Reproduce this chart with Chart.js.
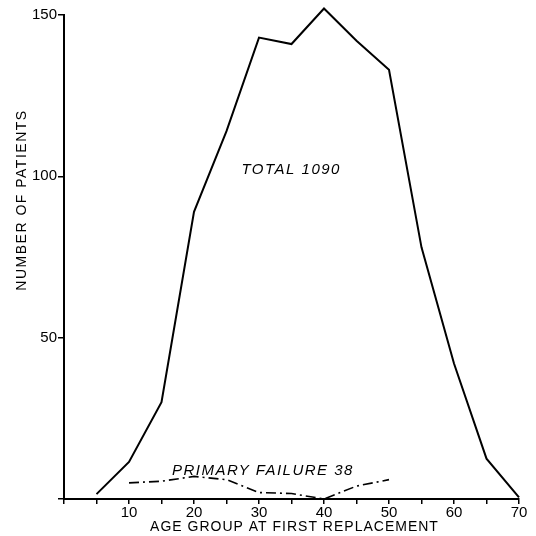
<!DOCTYPE html>
<html><head><meta charset="utf-8">
<script src="https://cdn.jsdelivr.net/npm/chart.js@4/dist/chart.umd.min.js"></script>
<style>html,body{margin:0;padding:0;background:#fff}#wrap{width:536px;height:536px}</style>
</head><body><div id="wrap"><canvas id="c" width="536" height="536"></canvas></div>
<script>
const ages = [5,10,15,20,25,30,35,40,45,50,55,60,65,70];
const totalValues = [1.5,11.5,30,89,114,143,141,152,142,133,78,42,12.5,0.5];
const failureAges = [10,15,20,25,30,35,40,45,50];
const failureValues = [5,5.5,7,6,2,1.7,0,4,6];
const xTickLabels = ['10','20','30','40','50','60','70'];
const yTickLabels = ['50','100','150'];
const yTitle = 'NUMBER OF PATIENTS';
const xTitle = 'AGE GROUP AT FIRST REPLACEMENT';
const notes = [
  {text:'TOTAL 1090', x:27.3, y:102},
  {text:'PRIMARY FAILURE 38', x:16.6, y:8.6}
];
const font = "'Liberation Sans', Arial, sans-serif";

const overlay = {
  id:'overlay',
  afterDraw(chart){
    const ctx = chart.ctx, xs = chart.scales.x, ys = chart.scales.y;
    ctx.save();
    ctx.fillStyle = '#000';
    ctx.font = 'italic 15px ' + font;
    ctx.letterSpacing = '1.5px';
    ctx.textBaseline = 'middle';
    ctx.textAlign = 'left';
    notes.forEach(n => ctx.fillText(n.text, xs.getPixelForValue(n.x), ys.getPixelForValue(n.y)));
    ctx.font = '14px ' + font;
    ctx.letterSpacing = '1px';
    ctx.textAlign = 'center';
    ctx.fillText(xTitle, (xs.left + xs.right)/2 + 3, 527);
    ctx.letterSpacing = '1.5px';
    ctx.translate(22, 200);
    ctx.rotate(-Math.PI/2);
    ctx.fillText(yTitle, 0, 0);
    ctx.restore();
  }
};

new Chart(document.getElementById('c'), {
  type:'line',
  data:{datasets:[
    {data: ages.map((a,i)=>({x:a,y:totalValues[i]})), borderColor:'#000', borderWidth:2, pointRadius:0, tension:0, clip:false},
    {data: failureAges.map((a,i)=>({x:a,y:failureValues[i]})), borderColor:'#000', borderWidth:1.6, borderDash:[10,4,2,4], pointRadius:0, tension:0, clip:false}
  ]},
  options:{
    responsive:false, animation:false,
    layout:{padding:{top:15, right:17, left:0, bottom:0}},
    plugins:{legend:{display:false}, tooltip:{enabled:false}},
    scales:{
      x:{type:'linear', min:0, max:70,
        border:{color:'#000', width:2},
        grid:{display:true, drawOnChartArea:false, drawTicks:true, tickLength:5, color:'#000', lineWidth:1.5},
        ticks:{stepSize:5, autoSkip:false, maxRotation:0, color:'#000', font:{family:font, size:15}, padding:0,
          callback:(v)=> (v%10===0 && v>0) ? xTickLabels[v/10-1] : ''},
        title:{display:false},
        afterFit:(s)=>{s.height = 37;}
      },
      y:{min:0, max:150,
        border:{color:'#000', width:2},
        grid:{display:true, drawOnChartArea:false, drawTicks:true, tickLength:6, color:'#000', lineWidth:1.5},
        ticks:{stepSize:50, color:'#000', font:{family:font, size:15}, padding:1,
          callback:(v)=> v>0 ? yTickLabels[v/50-1] : ''},
        afterFit:(s)=>{s.width = 64;}
      }
    }
  },
  plugins:[overlay]
});
</script></body></html>
